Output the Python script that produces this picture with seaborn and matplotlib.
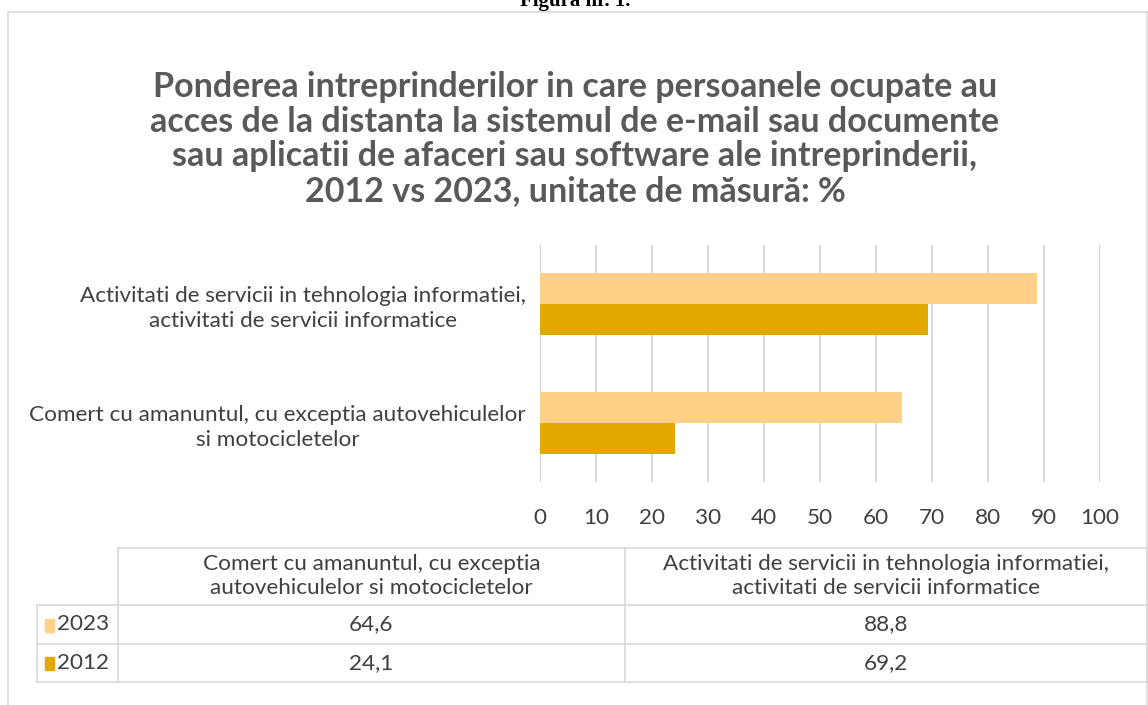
import matplotlib
matplotlib.use("Agg")
import matplotlib.pyplot as plt
from matplotlib.patches import Rectangle
from matplotlib.lines import Line2D
import seaborn as sns
import pandas as pd

# ---- data ----
categories = ["Activitati de servicii in tehnologia informatiei,\nactivitati de servicii informatice",
              "Comert cu amanuntul, cu exceptia autovehiculelor\nsi motocicletelor"]
table_headers = ["Comert cu amanuntul, cu exceptia\nautovehiculelor si motocicletelor",
                 "Activitati de servicii in tehnologia informatiei,\nactivitati de servicii informatice"]
years = ["2023", "2012"]
values_2023 = [88.8, 64.6]   # same order as categories
values_2012 = [69.2, 24.1]
xticks = [0, 10, 20, 30, 40, 50, 60, 70, 80, 90, 100]
colors = {"2023": "#FFD188", "2012": "#E2AA00"}
title = ("Ponderea intreprinderilor in care persoanele ocupate au\n"
         "acces de la distanta la sistemul de e-mail sau documente\n"
         "sau aplicatii de afaceri sau software ale intreprinderii,\n"
         "2012 vs 2023, unitate de măsură: %")

df = pd.DataFrame({
    "cat": categories * 2,
    "year": ["2023"] * 2 + ["2012"] * 2,
    "val": values_2023 + values_2012,
})

sns.set_theme(style="white")
plt.rcParams["font.family"] = ["Lato", "DejaVu Sans"]
TXT = "#404040"

W, H = 1148, 705
fig = plt.figure(figsize=(W / 100, H / 100), dpi=100)

def fx(px):
    return px / W

def fy(py):
    return 1 - py / H

fs = 16.2

ax = fig.add_axes([fx(540), fy(482), fx(1100) - fx(540), fy(245) - fy(482)])
sns.barplot(data=df, y="cat", x="val", hue="year", hue_order=years,
            palette=colors, orient="h", width=0.52, ax=ax, legend=False,
            saturation=1, edgecolor="none")
ax.set_xlim(0, 100)
ax.set_ylim(1.5, -0.5)
ax.set_xticks(xticks)
ax.set_xticklabels([str(t) for t in xticks], fontsize=fs, color=TXT)
ax.tick_params(axis="x", length=0, pad=19)
ax.set_yticks([0, 1])
ax.set_yticklabels(categories, fontsize=fs, color=TXT, ha="right", multialignment="center",
                   linespacing=1.3)
ax.tick_params(axis="y", length=0, pad=10)
for s in ax.spines.values():
    s.set_visible(False)
ax.xaxis.grid(True, color="#D9D9D9", linewidth=1.5)
ax.yaxis.grid(False)
ax.set_axisbelow(True)
ax.set_xlabel("")
ax.set_ylabel("")

# title
fig.text(fx(575), fy(71), title, ha="center", va="top", fontsize=24.5,
         fontweight="bold", color="#595959", linespacing=1.1)
# cut-off caption above chart
fig.text(fx(575), fy(6), "Figura nr. 1.", ha="center", va="baseline",
         fontsize=15, fontweight="bold", color="black", family="Liberation Serif")

# chart border
grey = "#D9D9D9"
fig.add_artist(Line2D([fx(8), fx(8)], [fy(12), 0], color=grey, lw=1.2, transform=fig.transFigure))
fig.add_artist(Line2D([fx(8), 1], [fy(12), fy(12)], color=grey, lw=1.2, transform=fig.transFigure))
fig.add_artist(Line2D([fx(1147), fx(1147)], [fy(12), 0], color=grey, lw=1.2, transform=fig.transFigure))

# data table
tl = "#D9D9D9"
x0, x1, x2, x3 = 37, 118, 625, 1147
r0, r1, r2, r3 = 548, 605, 644, 682
def hline(y, xa, xb):
    fig.add_artist(Line2D([fx(xa), fx(xb)], [fy(y), fy(y)], color=tl, lw=1.2, transform=fig.transFigure))
def vline(x, ya, yb):
    fig.add_artist(Line2D([fx(x), fx(x)], [fy(ya), fy(yb)], color=tl, lw=1.2, transform=fig.transFigure))
hline(r0, x1, x3)
hline(r1, x0, x3)
hline(r2, x0, x3)
hline(r3, x0, x3)
vline(x0, r1, r3)
vline(x1, r0, r3)
vline(x2, r0, r3)
vline(x3, r0, r3)

fig.text(fx((x1 + x2) / 2), fy((r0 + r1) / 2), table_headers[0], ha="center", va="center",
         fontsize=fs, color=TXT, linespacing=1.25)
fig.text(fx((x2 + x3) / 2), fy((r0 + r1) / 2), table_headers[1], ha="center", va="center",
         fontsize=fs, color=TXT, linespacing=1.25)
rows = [(values_2023[::-1], "2023", r1, r2), (values_2012[::-1], "2012", r2, r3)]
for vals, yr, ya, yb in rows:
    yc = (ya + yb) / 2
    fig.add_artist(Rectangle((fx(45), fy(yc + 7)), fx(9), fy(yc - 6) - fy(yc + 7),
                             color=colors[yr], transform=fig.transFigure))
    fig.text(fx(57), fy(yc), yr, ha="left", va="center", fontsize=fs, color=TXT)
    fig.text(fx((x1 + x2) / 2), fy(yc), f"{vals[0]:.1f}".replace(".", ","), ha="center",
             va="center", fontsize=fs, color=TXT)
    fig.text(fx((x2 + x3) / 2), fy(yc), f"{vals[1]:.1f}".replace(".", ","), ha="center",
             va="center", fontsize=fs, color=TXT)

fig.savefig("out.png", dpi=100)
